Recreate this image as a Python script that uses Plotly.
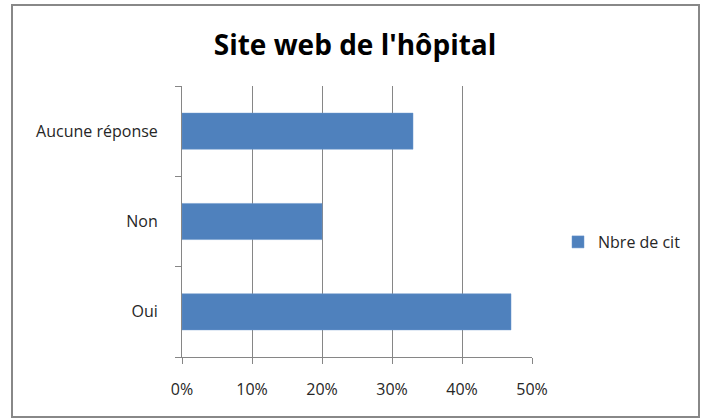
import plotly.graph_objects as go

categories = ["Oui", "Non", "Aucune réponse"]
values = [0.47, 0.20, 0.33]
series_name = "Nbre de cit"
x_ticks = [0, 0.1, 0.2, 0.3, 0.4, 0.5]
x_tick_labels = ["0%", "10%", "20%", "30%", "40%", "50%"]

W, H = 703, 419
L, R, T, B = 182, 171, 86, 62
pw, ph = W - L - R, H - T - B

def px_to_paper_x(px):
    return (px - L) / pw

def px_to_paper_y(py):
    return (H - B - py) / ph

fig = go.Figure()
fig.add_trace(go.Bar(
    y=categories, x=values, orientation="h", name=series_name,
    marker=dict(color="#4F81BD", line=dict(color="#6B97CC", width=0.5)),
    showlegend=True,
))

font_family = "Open Sans, Liberation Sans, sans-serif"

fig.update_layout(
    width=W, height=H,
    margin=dict(l=L, r=R, t=T, b=B),
    paper_bgcolor="white", plot_bgcolor="white",
    bargap=0.6,
    font=dict(family=font_family, size=16, color="#262626"),
    title=dict(text="<b>Site web de l'hôpital</b>", x=355 / W,
               xanchor="center", y=1 - 45 / H, yanchor="middle",
               font=dict(size=28, color="#000000", family=font_family)),
    legend=dict(x=px_to_paper_x(558), y=px_to_paper_y(242), xanchor="left", yanchor="middle",
                font=dict(size=16, color="#262626"), itemwidth=30,
                bgcolor="rgba(0,0,0,0)"),
    xaxis=dict(range=[0, 0.5], tickvals=x_ticks, ticktext=x_tick_labels,
               showgrid=True, gridcolor="#868686", gridwidth=1,
               showline=True, linecolor="#868686", linewidth=1,
               ticks="outside", ticklen=6, tickcolor="#868686",
               ticklabelstandoff=12, zeroline=False, fixedrange=True,
               tickfont=dict(size=16, color="#262626")),
    yaxis=dict(showgrid=False, showline=True, linecolor="#868686", linewidth=1,
               ticks="outside", ticklen=6, tickcolor="#868686",
               tickson="boundaries", ticklabelstandoff=20, zeroline=False,
               tickfont=dict(size=16, color="#262626")),
    shapes=[dict(type="rect", xref="paper", yref="paper",
                 x0=px_to_paper_x(12), x1=px_to_paper_x(699),
                 y0=px_to_paper_y(417), y1=px_to_paper_y(5),
                 line=dict(color="#888888", width=2), fillcolor="rgba(0,0,0,0)", layer="below")],
)

fig.write_html("out.html",
               config={"displayModeBar": False},
               post_script="document.body.style.margin='0';document.body.style.overflow='hidden';")
